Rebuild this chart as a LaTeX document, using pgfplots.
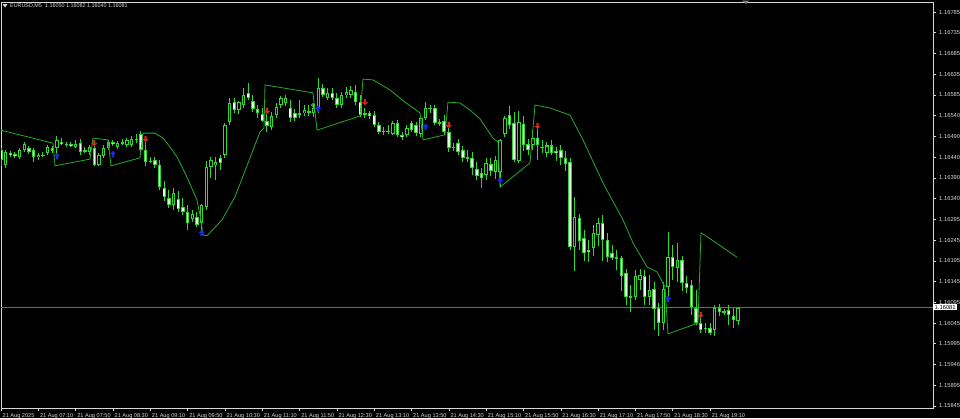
\documentclass[border=0pt]{standalone}
\usepackage{pgfplots}
\pgfplotsset{compat=1.18}
\usepackage{pgfplotstable}
\usepackage{fontspec}
\setmainfont{Liberation Sans}

\definecolor{cand}{RGB}{50,215,50}
\definecolor{bearfill}{RGB}{228,255,228}
\definecolor{sigline}{RGB}{40,170,40}
\definecolor{fg}{RGB}{215,215,215}
\definecolor{pricegray}{RGB}{105,105,105}
\definecolor{arrred}{RGB}{225,30,30}
\definecolor{arrblue}{RGB}{30,40,235}

% small arrows as drawn by the signal indicator
\pgfdeclareplotmark{dnarrow}{%
  \pgfpathmoveto{\pgfpoint{0pt}{-\pgfplotmarksize}}%
  \pgfpathlineto{\pgfpoint{\pgfplotmarksize}{0pt}}%
  \pgfpathlineto{\pgfpoint{0.35\pgfplotmarksize}{0pt}}%
  \pgfpathlineto{\pgfpoint{0.35\pgfplotmarksize}{\pgfplotmarksize}}%
  \pgfpathlineto{\pgfpoint{-0.35\pgfplotmarksize}{\pgfplotmarksize}}%
  \pgfpathlineto{\pgfpoint{-0.35\pgfplotmarksize}{0pt}}%
  \pgfpathlineto{\pgfpoint{-\pgfplotmarksize}{0pt}}%
  \pgfpathclose\pgfusepathqfill}
\pgfdeclareplotmark{uparrow}{%
  \pgfpathmoveto{\pgfpoint{0pt}{\pgfplotmarksize}}%
  \pgfpathlineto{\pgfpoint{\pgfplotmarksize}{0pt}}%
  \pgfpathlineto{\pgfpoint{0.35\pgfplotmarksize}{0pt}}%
  \pgfpathlineto{\pgfpoint{0.35\pgfplotmarksize}{-\pgfplotmarksize}}%
  \pgfpathlineto{\pgfpoint{-0.35\pgfplotmarksize}{-\pgfplotmarksize}}%
  \pgfpathlineto{\pgfpoint{-0.35\pgfplotmarksize}{0pt}}%
  \pgfpathlineto{\pgfpoint{-\pgfplotmarksize}{0pt}}%
  \pgfpathclose\pgfusepathqfill}

% EURUSD M5 bars, index 0 = 06:30
\pgfplotstableread{
i o h l c
0 1.16456 1.16461 1.16418 1.16432
1 1.16420 1.16456 1.16413 1.16451
2 1.16449 1.16453 1.16439 1.16444
3 1.16446 1.16451 1.16437 1.16441
4 1.16439 1.16461 1.16434 1.16456
5 1.16456 1.16475 1.16451 1.16470
6 1.16461 1.16465 1.16446 1.16451
7 1.16456 1.16461 1.16427 1.16439
8 1.16439 1.16449 1.16432 1.16444
9 1.16446 1.16451 1.16439 1.16444
10 1.16449 1.16468 1.16444 1.16463
11 1.16461 1.16465 1.16449 1.16453
12 1.16461 1.16489 1.16444 1.16480
13 1.16477 1.16487 1.16468 1.16472
14 1.16472 1.16477 1.16465 1.16468
15 1.16470 1.16475 1.16463 1.16465
16 1.16465 1.16480 1.16461 1.16472
17 1.16472 1.16484 1.16446 1.16451
18 1.16456 1.16463 1.16449 1.16453
19 1.16451 1.16468 1.16444 1.16463
20 1.16461 1.16468 1.16418 1.16420
21 1.16422 1.16449 1.16418 1.16444
22 1.16444 1.16468 1.16437 1.16463
23 1.16461 1.16480 1.16456 1.16475
24 1.16475 1.16480 1.16465 1.16470
25 1.16463 1.16477 1.16458 1.16472
26 1.16475 1.16482 1.16468 1.16472
27 1.16468 1.16484 1.16463 1.16480
28 1.16468 1.16489 1.16463 1.16484
29 1.16482 1.16496 1.16475 1.16480
30 1.16494 1.16501 1.16451 1.16456
31 1.16456 1.16477 1.16420 1.16427
32 1.16432 1.16441 1.16425 1.16429
33 1.16432 1.16439 1.16413 1.16420
34 1.16420 1.16432 1.16360 1.16367
35 1.16365 1.16384 1.16336 1.16344
36 1.16341 1.16360 1.16317 1.16325
37 1.16325 1.16365 1.16313 1.16353
38 1.16341 1.16360 1.16308 1.16317
39 1.16320 1.16341 1.16301 1.16308
40 1.16308 1.16325 1.16267 1.16282
41 1.16293 1.16313 1.16284 1.16305
42 1.16296 1.16308 1.16272 1.16277
43 1.16282 1.16329 1.16253 1.16325
44 1.16320 1.16432 1.16313 1.16415
45 1.16415 1.16439 1.16389 1.16432
46 1.16420 1.16439 1.16384 1.16427
47 1.16437 1.16444 1.16408 1.16425
48 1.16444 1.16520 1.16437 1.16515
49 1.16523 1.16580 1.16515 1.16570
50 1.16570 1.16580 1.16546 1.16551
51 1.16551 1.16575 1.16542 1.16570
52 1.16563 1.16604 1.16556 1.16587
53 1.16592 1.16616 1.16575 1.16580
54 1.16575 1.16587 1.16546 1.16554
55 1.16554 1.16565 1.16534 1.16544
56 1.16544 1.16556 1.16523 1.16527
57 1.16527 1.16544 1.16499 1.16515
58 1.16511 1.16546 1.16503 1.16539
59 1.16539 1.16568 1.16532 1.16558
60 1.16563 1.16585 1.16556 1.16580
61 1.16568 1.16587 1.16561 1.16582
62 1.16558 1.16575 1.16523 1.16534
63 1.16546 1.16556 1.16527 1.16534
64 1.16544 1.16575 1.16532 1.16542
65 1.16544 1.16563 1.16537 1.16551
66 1.16546 1.16563 1.16539 1.16549
67 1.16544 1.16568 1.16537 1.16558
68 1.16556 1.16628 1.16546 1.16604
69 1.16604 1.16613 1.16582 1.16587
70 1.16580 1.16604 1.16575 1.16592
71 1.16592 1.16604 1.16575 1.16580
72 1.16580 1.16592 1.16556 1.16563
73 1.16563 1.16594 1.16556 1.16587
74 1.16587 1.16608 1.16582 1.16594
75 1.16587 1.16611 1.16582 1.16599
76 1.16594 1.16611 1.16563 1.16570
77 1.16570 1.16587 1.16534 1.16539
78 1.16544 1.16556 1.16534 1.16542
79 1.16544 1.16551 1.16532 1.16537
80 1.16539 1.16551 1.16511 1.16515
81 1.16515 1.16523 1.16494 1.16499
82 1.16501 1.16513 1.16494 1.16499
83 1.16503 1.16515 1.16494 1.16501
84 1.16496 1.16527 1.16492 1.16520
85 1.16520 1.16527 1.16487 1.16492
86 1.16492 1.16499 1.16480 1.16487
87 1.16492 1.16515 1.16487 1.16508
88 1.16520 1.16527 1.16499 1.16503
89 1.16515 1.16523 1.16489 1.16496
90 1.16496 1.16539 1.16487 1.16532
91 1.16532 1.16570 1.16527 1.16558
92 1.16558 1.16565 1.16546 1.16556
93 1.16556 1.16563 1.16515 1.16520
94 1.16523 1.16532 1.16515 1.16520
95 1.16527 1.16539 1.16492 1.16499
96 1.16499 1.16508 1.16451 1.16461
97 1.16465 1.16475 1.16456 1.16463
98 1.16472 1.16484 1.16444 1.16451
99 1.16456 1.16465 1.16427 1.16437
100 1.16439 1.16456 1.16427 1.16437
101 1.16437 1.16451 1.16396 1.16413
102 1.16413 1.16427 1.16384 1.16396
103 1.16401 1.16413 1.16365 1.16389
104 1.16396 1.16437 1.16384 1.16425
105 1.16425 1.16437 1.16396 1.16408
106 1.16403 1.16444 1.16389 1.16432
107 1.16403 1.16484 1.16370 1.16480
108 1.16496 1.16539 1.16487 1.16532
109 1.16539 1.16563 1.16508 1.16515
110 1.16520 1.16546 1.16427 1.16432
111 1.16432 1.16551 1.16425 1.16523
112 1.16520 1.16539 1.16456 1.16468
113 1.16472 1.16484 1.16444 1.16456
114 1.16468 1.16503 1.16456 1.16487
115 1.16487 1.16515 1.16432 1.16468
116 1.16465 1.16480 1.16451 1.16463
117 1.16451 1.16475 1.16439 1.16468
118 1.16468 1.16480 1.16444 1.16451
119 1.16456 1.16465 1.16432 1.16451
120 1.16458 1.16468 1.16420 1.16439
121 1.16439 1.16456 1.16408 1.16425
122 1.16427 1.16437 1.16217 1.16224
123 1.16224 1.16344 1.16169 1.16296
124 1.16296 1.16305 1.16217 1.16241
125 1.16246 1.16265 1.16193 1.16210
126 1.16217 1.16241 1.16189 1.16212
127 1.16222 1.16277 1.16205 1.16258
128 1.16253 1.16296 1.16229 1.16282
129 1.16282 1.16301 1.16193 1.16241
130 1.16241 1.16260 1.16189 1.16200
131 1.16212 1.16229 1.16193 1.16200
132 1.16200 1.16217 1.16169 1.16198
133 1.16200 1.16205 1.16122 1.16157
134 1.16162 1.16174 1.16086 1.16105
135 1.16105 1.16134 1.16069 1.16107
136 1.16105 1.16169 1.16098 1.16157
137 1.16146 1.16174 1.16122 1.16157
138 1.16157 1.16169 1.16086 1.16105
139 1.16105 1.16157 1.16086 1.16122
140 1.16126 1.16141 1.16026 1.16079
141 1.16079 1.16093 1.16014 1.16043
142 1.16045 1.16141 1.16026 1.16126
143 1.16129 1.16260 1.16098 1.16200
144 1.16200 1.16229 1.16146 1.16177
145 1.16174 1.16234 1.16141 1.16193
146 1.16193 1.16205 1.16122 1.16138
147 1.16138 1.16157 1.16115 1.16126
148 1.16134 1.16146 1.16062 1.16081
149 1.16079 1.16122 1.16038 1.16043
150 1.16043 1.16055 1.16019 1.16026
151 1.16033 1.16045 1.16019 1.16031
152 1.16033 1.16043 1.16014 1.16021
153 1.16026 1.16086 1.16014 1.16079
154 1.16079 1.16091 1.16062 1.16069
155 1.16072 1.16079 1.16064 1.16069
156 1.16074 1.16086 1.16038 1.16062
157 1.16060 1.16079 1.16033 1.16050
158 1.16050 1.16082 1.16040 1.16081
}\candles

% trailing stop line of the indicator
\pgfplotstableread{
x y
0 1.16503
11.15 1.16472
11.58 1.16418
19.08 1.16434
19.72 1.16484
22.94 1.16480
23.58 1.16418
29.80 1.16437
30.44 1.16496
33.01 1.16496
34.73 1.16484
36.23 1.16463
37.73 1.16439
39.87 1.16391
42.02 1.16336
42.87 1.16289
43.30 1.16253
44.16 1.16251
47.37 1.16289
50.16 1.16344
53.80 1.16449
55.52 1.16499
56.38 1.16508
56.59 1.16611
66.88 1.16592
67.74 1.16503
76.96 1.16537
77.60 1.16625
79.74 1.16623
83.39 1.16599
86.60 1.16570
89.82 1.16544
90.46 1.16480
95.18 1.16492
95.82 1.16570
98.39 1.16568
100.54 1.16551
102.68 1.16530
105.47 1.16484
106.54 1.16475
106.97 1.16367
113.40 1.16425
114.47 1.16563
117.68 1.16556
121.97 1.16539
124.76 1.16480
129.05 1.16377
133.33 1.16289
135.48 1.16234
138.48 1.16177
140.62 1.16165
142.34 1.16129
142.98 1.16017
149.41 1.16043
150.05 1.16258
151.34 1.16249
157.77 1.16200
}\trail

\begin{document}
\begin{tikzpicture}[x=1bp,y=1bp]
\fill[black] (0,0) rectangle (960,-418);
\path[use as bounding box] (0,0) rectangle (960,-418);
\begin{axis}[
  at={(1bp,-408bp)}, anchor=south west,
  scale only axis, width=932bp, height=406bp,
  xmin=0, xmax=199.79, ymin=1.1584014, ymax=1.1680886,
  axis line style={fg, line width=0.8bp},
  scaled ticks=false,
  tick align=outside, major tick length=3bp,
  tick style={fg, line width=0.6bp},
  xtick pos=bottom, ytick pos=right, yticklabel pos=right,
  xtick={0,8,...,152},
  xticklabels={21 Aug 2025,21 Aug 07:10,21 Aug 07:50,21 Aug 08:30,21 Aug 09:10,
    21 Aug 09:50,21 Aug 10:30,21 Aug 11:10,21 Aug 11:50,21 Aug 12:30,21 Aug 13:10,
    21 Aug 13:50,21 Aug 14:30,21 Aug 15:10,21 Aug 15:50,21 Aug 16:30,21 Aug 17:10,
    21 Aug 17:50,21 Aug 18:30,21 Aug 19:10},
  ytick={1.16785,1.167355,1.166861,1.166366,1.165871,1.165376,1.164882,1.164387,
    1.163892,1.163397,1.162903,1.162408,1.161913,1.161418,1.160924,1.160429,
    1.159934,1.159439,1.158945,1.15845},
  yticklabels={1.16785,1.16735,1.16685,1.16635,1.16585,1.16540,1.16490,1.16440,
    1.16390,1.16340,1.16295,1.16245,1.16195,1.16145,1.16095,1.16045,
    1.15995,1.15946,1.15895,1.15845},
  xticklabel style={anchor=west, inner sep=0pt, yshift=-5.5bp, xshift=1.5bp,
    font=\fontsize{5.6bp}{6bp}\selectfont, text=fg},
  yticklabel style={anchor=west, inner sep=0pt, xshift=3bp,
    font=\fontsize{5.8bp}{6bp}\selectfont, text=fg},
]
% current price line
\addplot[pricegray, line width=0.7bp] coordinates {(0,1.16081) (199.79,1.16081)};
% wicks
\addplot[draw=none, mark=none,
  error bars/.cd, y dir=both, y explicit, error mark=none,
  error bar style={cand, line width=1bp}]
  table[x=i, y expr={(\thisrow{h}+\thisrow{l})/2},
        y error expr={(\thisrow{h}-\thisrow{l})/2}] {\candles};
% bull bodies (hollow)
\addplot[draw=none, mark=none,
  restrict expr to domain={\thisrow{c}-\thisrow{o}}{0:1},
  error bars/.cd, y dir=both, y explicit, error mark=none,
  error bar style={cand, line width=3.4bp}]
  table[x=i, y expr={(\thisrow{o}+\thisrow{c})/2},
        y error expr={(\thisrow{c}-\thisrow{o})/2}] {\candles};
\addplot[draw=none, mark=none,
  restrict expr to domain={\thisrow{c}-\thisrow{o}}{0:1},
  error bars/.cd, y dir=both, y explicit, error mark=none,
  error bar style={black, line width=1.4bp}]
  table[x=i, y expr={(\thisrow{o}+\thisrow{c})/2},
        y error expr={max((\thisrow{c}-\thisrow{o})/2-0.000024,0)}] {\candles};
% bear bodies (white)
\addplot[draw=none, mark=none,
  restrict expr to domain={\thisrow{o}-\thisrow{c}}{1e-7:1},
  error bars/.cd, y dir=both, y explicit, error mark=none,
  error bar style={cand, line width=3.4bp}]
  table[x=i, y expr={(\thisrow{o}+\thisrow{c})/2},
        y error expr={(\thisrow{o}-\thisrow{c})/2}] {\candles};
\addplot[draw=none, mark=none,
  restrict expr to domain={\thisrow{o}-\thisrow{c}}{1e-7:1},
  error bars/.cd, y dir=both, y explicit, error mark=none,
  error bar style={bearfill, line width=1.6bp}]
  table[x=i, y expr={(\thisrow{o}+\thisrow{c})/2},
        y error expr={max((\thisrow{o}-\thisrow{c})/2-0.000024,0)}] {\candles};
% indicator line
\addplot[sigline, line width=0.8bp, mark=none] table[x=x, y=y] {\trail};
% signals
\addplot[only marks, mark=dnarrow, mark size=3.2bp, color=arrred] coordinates {
  (20,1.16472) (31,1.16482) (57,1.16549) (78,1.16570) (96,1.16515) (115,1.16513) (150,1.16062)};
\addplot[only marks, mark=uparrow, mark size=3.2bp, color=arrblue] coordinates {
  (12,1.16441) (24,1.16446) (43,1.16258) (68,1.16554) (91,1.16511) (107,1.16382) (143,1.16100)};
\addplot[only marks, mark=o, mark size=1.6bp, color=cand, line width=0.8bp] coordinates {(66.9,1.16563)};
\end{axis}
% header, price tag, shift marker
\fill[fg] (2.5,-4) -- (7.5,-4) -- (5,-7.5) -- cycle;
\node[anchor=west, inner sep=0pt, text=fg, font=\fontsize{5.4bp}{6bp}\selectfont]
  at (10,-5.5) {EURUSD,M5\ \ 1.16050 1.16082 1.16040 1.16081};
\node[anchor=west, fill=white, text=black, inner sep=0.6bp, minimum width=24bp,
  font=\fontsize{5.8bp}{6bp}\selectfont] at (933,-307) {1.16081};
\fill[gray] (742,-0.5) -- (749,-0.5) -- (745.5,-4) -- cycle;
\end{tikzpicture}
\end{document}
